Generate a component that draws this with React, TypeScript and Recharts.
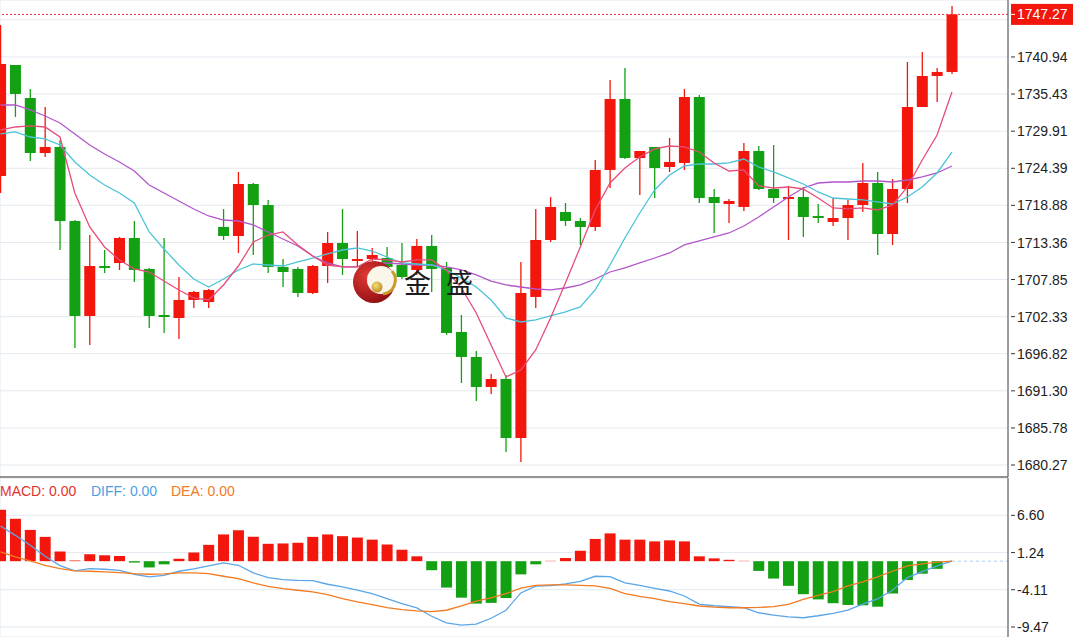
import {
  ComposedChart,
  Bar,
  Line,
  XAxis,
  YAxis,
  CartesianGrid,
  ReferenceLine,
  Cell,
} from 'recharts';

const RED = '#f2160c';
const GREEN = '#13a013';
const GRID = '#e4eaf0';
const AXIS = '#444';
const FONT = '"Liberation Sans", Arial, sans-serif';

// candles, oldest first
const opens = [
  1723.24, 1739.75, 1734.84, 1726.66, 1727.56, 1716.55, 1702.43, 1709.86, 1710.31, 1714.03,
  1709.42, 1702.58, 1702.13, 1704.81, 1704.51, 1715.66, 1714.32, 1722.05, 1718.93, 1709.72,
  1709.42, 1705.85, 1709.86, 1713.28, 1710.61, 1710.9, 1711.05, 1710.01, 1709.27, 1712.84,
  1709.57, 1700.05, 1696.34, 1691.87, 1693.06, 1684.29, 1705.26, 1713.73, 1717.89, 1716.55,
  1715.66, 1724.14, 1734.69, 1725.92, 1727.56, 1724.58, 1725.18, 1734.99, 1720.12, 1719.08,
  1718.64, 1726.96, 1721.31, 1719.82, 1720.12, 1717.3, 1716.41, 1717.0, 1718.93, 1722.2,
  1714.62, 1721.31, 1733.5, 1738.11, 1738.71,
];
const closes = [
  1739.9, 1735.44, 1726.66, 1727.56, 1716.55, 1702.43, 1709.86, 1709.57, 1714.03, 1709.27,
  1702.43, 1702.28, 1704.81, 1706.0, 1706.3, 1714.32, 1722.05, 1718.93, 1709.72, 1708.97,
  1705.85, 1709.86, 1713.28, 1710.9, 1710.9, 1711.5, 1709.72, 1708.23, 1712.84, 1709.42,
  1699.9, 1696.34, 1691.87, 1693.06, 1684.29, 1705.85, 1713.73, 1718.64, 1716.55, 1715.66,
  1724.14, 1734.69, 1725.92, 1726.96, 1724.43, 1725.33, 1734.99, 1719.97, 1719.23, 1719.53,
  1726.96, 1721.31, 1719.97, 1720.12, 1717.15, 1717.0, 1717.0, 1718.93, 1722.2, 1714.62,
  1721.31, 1733.5, 1738.11, 1738.71, 1747.27,
];
const highs = [
  1745.69, 1739.75, 1736.18, 1733.5, 1728.6, 1716.7, 1714.47, 1712.24, 1714.18, 1716.55,
  1709.57, 1714.03, 1708.23, 1706.15, 1706.44, 1718.34, 1723.84, 1722.2, 1719.68, 1710.9,
  1709.72, 1710.01, 1714.92, 1718.34, 1715.07, 1712.54, 1712.69, 1713.28, 1713.88, 1714.47,
  1710.46, 1702.58, 1697.23, 1693.81, 1693.66, 1710.46, 1718.34, 1720.12, 1719.23, 1717.0,
  1725.62, 1737.52, 1739.3, 1726.96, 1727.56, 1728.89, 1736.18, 1735.29, 1721.31, 1719.82,
  1728.15, 1727.7, 1727.85, 1721.76, 1721.61, 1719.08, 1719.97, 1719.68, 1725.18, 1723.84,
  1722.8, 1740.19, 1741.68, 1739.3, 1748.52,
];
const lows = [
  1720.72, 1732.02, 1725.47, 1726.07, 1712.24, 1697.67, 1698.12, 1708.82, 1709.27, 1707.49,
  1700.65, 1699.9, 1699.01, 1703.62, 1703.62, 1713.73, 1711.8, 1711.5, 1708.82, 1706.74,
  1705.26, 1705.7, 1707.34, 1708.53, 1709.72, 1710.61, 1709.27, 1707.93, 1708.53, 1706.0,
  1699.61, 1692.47, 1689.79, 1690.83, 1682.21, 1680.72, 1703.62, 1713.43, 1715.81, 1712.99,
  1715.07, 1721.46, 1725.77, 1720.42, 1719.97, 1723.84, 1724.14, 1719.23, 1714.77, 1716.26,
  1718.04, 1721.16, 1719.23, 1713.73, 1714.18, 1716.26, 1715.81, 1713.73, 1717.89, 1711.5,
  1712.99, 1719.23, 1733.5, 1734.25, 1738.41,
];

const ma5 = [
  1730.08, 1730.53, 1730.68, 1730.53, 1729.04, 1720.72, 1715.66, 1712.69, 1710.76, 1709.42,
  1708.97, 1707.63, 1706.3, 1705.11, 1704.81, 1707.04, 1709.86, 1713.43, 1714.47, 1714.92,
  1712.99, 1711.35, 1710.01, 1709.72, 1709.72, 1710.9, 1710.76, 1710.46, 1710.76, 1710.76,
  1709.27, 1706.59, 1702.88, 1698.12, 1693.36, 1694.4, 1697.38, 1702.13, 1707.34, 1712.69,
  1718.19, 1722.2, 1724.43, 1726.07, 1727.26, 1727.7, 1727.56, 1726.81, 1725.18, 1723.99,
  1724.14, 1721.76, 1721.46, 1721.61, 1721.31, 1719.97, 1718.49, 1718.34, 1718.49, 1718.19,
  1718.93, 1721.61, 1725.62, 1729.34, 1735.73,
];
const ma10 = [
  1729.49, 1729.79, 1729.04, 1728.75, 1727.85, 1725.33, 1723.39, 1721.91, 1720.72, 1719.23,
  1714.92, 1712.39, 1710.01, 1707.93, 1706.74, 1707.93, 1709.27, 1710.16, 1710.01, 1709.86,
  1710.46, 1711.05, 1711.65, 1712.24, 1712.54, 1712.09, 1711.2, 1710.31, 1710.16, 1710.01,
  1709.27, 1708.08, 1706.74, 1704.81, 1702.13, 1701.54, 1701.84, 1702.43, 1703.03, 1703.77,
  1706.3, 1710.01, 1714.03, 1717.74, 1721.16, 1723.39, 1724.73, 1725.03, 1725.03, 1725.18,
  1725.77, 1724.58, 1723.84, 1722.95, 1722.05, 1720.87, 1719.97, 1719.82, 1719.68, 1719.38,
  1719.08, 1720.12, 1721.61, 1723.69, 1726.81,
];
const ma20 = [
  1733.8, 1733.8, 1733.06, 1732.16, 1731.12, 1729.49, 1727.85, 1726.52, 1725.33, 1723.99,
  1721.91, 1720.72, 1719.53, 1718.34, 1717.3, 1716.7, 1716.55, 1715.96, 1714.92, 1713.88,
  1712.84, 1711.35, 1710.31, 1709.72, 1709.72, 1710.31, 1710.31, 1710.16, 1710.01, 1710.01,
  1709.72, 1709.27, 1708.53, 1707.63, 1707.04, 1706.74, 1706.44, 1706.3, 1706.59, 1707.04,
  1707.93, 1708.97, 1709.57, 1710.31, 1711.05, 1711.8, 1712.99, 1713.58, 1714.18, 1714.77,
  1715.81, 1717.15, 1718.64, 1720.12, 1721.46, 1722.2, 1722.35, 1722.35, 1722.5, 1722.5,
  1722.35, 1722.65, 1723.1, 1723.69, 1724.73,
];

// MACD pane
const macdHist = [
  7.4, 6.1, 4.5, 3.5, 1.4, 0.1, 1.0, 0.85, 0.75, -0.2,
  -0.9, -0.45, 0.35, 1.25, 2.35, 3.85, 4.45, 3.5, 2.5, 2.55,
  2.65, 3.5, 3.85, 3.6, 3.4, 3.1, 2.4, 1.65, 0.7, -1.3,
  -3.8, -5.25, -6.1, -6.0, -5.3, -1.9, -0.45, 0.05, 0.45, 1.5,
  3.2, 4.0, 3.1, 3.1, 2.85, 3.0, 2.85, 0.7, 0.4, 0.2,
  0.05, -1.4, -2.5, -3.55, -4.75, -5.5, -6.05, -6.3, -6.35, -6.55,
  -4.65, -2.7, -1.8, -1.1, 0,
];
const diffLine = [
  5.07, 3.72, 2.29, 0.7, -0.64, -1.4, -1.07, -1.16, -1.31, -1.88,
  -2.27, -2.03, -1.45, -1.12, -0.69, -0.25, -0.59, -1.69, -2.36, -2.65,
  -2.75, -2.79, -3.32, -3.7, -4.18, -4.66, -5.38, -6.1, -6.72, -7.92,
  -8.88, -9.21, -9.07, -8.21, -7.06, -4.57, -3.6, -3.52, -3.28, -2.89,
  -2.17, -2.22, -3.13, -3.47, -3.9, -4.29, -5.01, -6.17, -6.41, -6.55,
  -6.7, -7.42, -7.76, -8.0, -8.14, -7.85, -7.51, -7.03, -6.17, -5.44,
  -4.19, -2.36, -1.49, -0.67, 0,
];
const deaLine = [
  1.33, 0.61, 0.03, -0.59, -1.07, -1.4, -1.45, -1.55, -1.64, -1.79,
  -1.88, -1.84, -1.69, -1.69, -1.79, -2.17, -2.51, -3.13, -3.61, -3.94,
  -4.18, -4.42, -4.81, -5.38, -5.86, -6.24, -6.67, -6.96, -7.15, -7.25,
  -7.06, -6.43, -5.76, -5.28, -4.66, -3.89, -3.47, -3.42, -3.42, -3.47,
  -3.56, -3.9, -4.67, -5.06, -5.39, -5.83, -6.12, -6.45, -6.6, -6.7,
  -6.7, -6.65, -6.55, -6.21, -5.49, -4.91, -4.38, -3.56, -2.99, -2.26,
  -1.45, -0.67, -0.39, -0.14, 0,
];

const priceLabels = [
  1680.27, 1685.78, 1691.3, 1696.82, 1702.33, 1707.85, 1713.36, 1718.88, 1724.39, 1729.91,
  1735.43, 1740.94,
];
const priceGrid = [...priceLabels, 1746.46];
const macdLabels = [-9.47, -4.11, 1.24, 6.6];
const sessionBreaks = [12, 15, 24, 36, 48, 60];
const lastPrice = 1747.27;
const legendItems = [
  { text: 'MACD: 0.00', color: '#e5322d', left: 0 },
  { text: 'DIFF: 0.00', color: '#4d9fe3', left: 91 },
  { text: 'DEA: 0.00', color: '#f07a25', left: 171 },
];

const X_DOMAIN: [number, number] = [-0.034, 67.77];
const PRICE_DOMAIN: [number, number] = [1678.49, 1749.41];
const MACD_DOMAIN: [number, number] = [-10.91, 11.97];

const candles = closes.map((close, i) => ({
  idx: i,
  open: opens[i],
  close,
  high: highs[i],
  low: lows[i],
  ma5: ma5[i],
  ma10: ma10[i],
  ma20: ma20[i],
}));

const macdData = macdHist.map((hist, i) => ({
  idx: i,
  hist,
  diff: diffLine[i],
  dea: deaLine[i],
}));

function Candle(props: any) {
  const { x, y, width, height, payload } = props;
  if (x == null || !payload) return null;
  const top = Math.min(y, y + height);
  const bottom = Math.max(y, y + height);
  const span = payload.high - payload.low;
  const k = span > 0 ? (bottom - top) / span : 0;
  const toY = (v: number) => top + (payload.high - v) * k;
  const color = payload.close >= payload.open ? RED : GREEN;
  const cx = x + width / 2;
  const bodyTop = toY(Math.max(payload.open, payload.close));
  const bodyBottom = toY(Math.min(payload.open, payload.close));
  return (
    <g>
      <line x1={cx} x2={cx} y1={top} y2={bottom} stroke={color} strokeWidth={1.3} />
      <rect
        x={cx - 5.5}
        y={bodyTop}
        width={11}
        height={Math.max(bodyBottom - bodyTop, 1.5)}
        fill={color}
      />
    </g>
  );
}

function AxisTick(props: any) {
  const { x, y, payload, shown } = props;
  if (!shown.includes(payload.value)) return <g />;
  return (
    <g>
      <line x1={x + 3} x2={x + 7} y1={y} y2={y} stroke="#333" />
      <text x={x + 9} y={y} dy="0.36em" fontSize={14} fontFamily={FONT} fill="#222">
        {payload.value.toFixed(2)}
      </text>
    </g>
  );
}

function PriceTag(props: any) {
  const vb = props.viewBox || {};
  const right = (vb.x || 0) + (vb.width || 0);
  const y = vb.y || 0;
  return (
    <g>
      <rect x={right + 3} y={y - 10.5} width={62} height={21} fill={RED} />
      <line x1={right + 3} x2={right + 7} y1={y} y2={y} stroke="#fff" />
      <text x={right + 9} y={y} dy="0.36em" fontSize={14} fontFamily={FONT} fill="#fff">
        {lastPrice.toFixed(2)}
      </text>
    </g>
  );
}

function Watermark() {
  return (
    <svg
      width={1073}
      height={637}
      style={{ position: 'absolute', left: 0, top: 0, pointerEvents: 'none' }}
    >
      <defs>
        <radialGradient id="wmRed" cx="35%" cy="35%" r="75%">
          <stop offset="0%" stopColor="#e23a34" />
          <stop offset="100%" stopColor="#8a0c10" />
        </radialGradient>
        <radialGradient id="wmGold" cx="40%" cy="35%" r="70%">
          <stop offset="0%" stopColor="#f3dc7a" />
          <stop offset="100%" stopColor="#b98b1c" />
        </radialGradient>
      </defs>
      <circle cx={374} cy={282} r={21} fill="url(#wmRed)" />
      <circle cx={381} cy={280} r={14} fill="#fbf6ea" />
      <path d="M 392 271 A 14 14 0 0 1 383 294" stroke="#c99b2b" strokeWidth={3} fill="none" />
      <circle cx={377} cy={287} r={5.5} fill="url(#wmGold)" />
      <text
        x={404}
        y={293}
        fontSize={27}
        fontFamily='"Noto Sans CJK SC", sans-serif'
        letterSpacing={15}
        fill="#1c1c1c"
      >
        金盛
      </text>
    </svg>
  );
}

export default function App() {
  return (
    <div
      style={{
        position: 'absolute',
        left: 0,
        top: 0,
        width: 1073,
        height: 637,
        background: '#fff',
        overflow: 'hidden',
      }}
    >
      <ComposedChart
        width={1073}
        height={478}
        data={candles}
        margin={{ top: 0, right: 0, bottom: 0, left: 0 }}
      >
        <CartesianGrid stroke={GRID} />
        <XAxis
          dataKey="idx"
          type="number"
          domain={X_DOMAIN}
          allowDataOverflow
          ticks={sessionBreaks}
          tick={false}
          tickLine={false}
          axisLine={{ stroke: '#333' }}
          height={1}
        />
        <YAxis
          orientation="right"
          width={65}
          domain={PRICE_DOMAIN}
          allowDataOverflow
          ticks={priceGrid}
          interval={0}
          tickSize={0}
          tickMargin={0}
          tickLine={false}
          axisLine={{ stroke: AXIS }}
          tick={<AxisTick shown={priceLabels} />}
        />
        <Bar
          dataKey={(d: any) => [d.low, d.high]}
          barSize={11}
          shape={<Candle />}
          isAnimationActive={false}
        />
        <Line dataKey="ma20" stroke="#b257c8" strokeWidth={1.3} dot={false} activeDot={false} isAnimationActive={false} />
        <Line dataKey="ma10" stroke="#4cc4d8" strokeWidth={1.3} dot={false} activeDot={false} isAnimationActive={false} />
        <Line dataKey="ma5" stroke="#e64d78" strokeWidth={1.3} dot={false} activeDot={false} isAnimationActive={false} />
        <ReferenceLine
          y={lastPrice}
          stroke="#e8353a"
          strokeDasharray="2 2"
          label={(p: any) => <PriceTag {...p} />}
        />
      </ComposedChart>

      <div style={{ position: 'absolute', left: 0, top: 478 }}>
        <ComposedChart
          width={1073}
          height={159}
          data={macdData}
          margin={{ top: 0, right: 0, bottom: 0, left: 0 }}
        >
          <CartesianGrid stroke={GRID} />
          <XAxis
            dataKey="idx"
            type="number"
            domain={X_DOMAIN}
            allowDataOverflow
            ticks={sessionBreaks}
            tick={false}
            tickLine={false}
            axisLine={false}
            height={0}
          />
          <YAxis
            orientation="right"
            width={65}
            domain={MACD_DOMAIN}
            allowDataOverflow
            ticks={macdLabels}
            interval={0}
            tickSize={0}
            tickMargin={0}
            tickLine={false}
            axisLine={{ stroke: AXIS }}
            tick={<AxisTick shown={macdLabels} />}
          />
          <Bar dataKey="hist" barSize={11} isAnimationActive={false}>
            {macdData.map((d) => (
              <Cell key={d.idx} fill={d.hist >= 0 ? RED : GREEN} />
            ))}
          </Bar>
          <ReferenceLine
            segment={[
              { x: macdData.length - 1, y: 0 },
              { x: X_DOMAIN[1], y: 0 },
            ]}
            stroke="#a8cdee"
            strokeDasharray="3 3"
          />
          <Line dataKey="diff" stroke="#5aa6e8" strokeWidth={1.3} dot={false} activeDot={false} isAnimationActive={false} />
          <Line dataKey="dea" stroke="#f27b22" strokeWidth={1.3} dot={false} activeDot={false} isAnimationActive={false} />
        </ComposedChart>
      </div>

      {legendItems.map((item) => (
        <div
          key={item.text}
          style={{
            position: 'absolute',
            left: item.left,
            top: 482,
            lineHeight: '18px',
            fontSize: 14,
            fontFamily: FONT,
            color: item.color,
            whiteSpace: 'pre',
          }}
        >
          {item.text}
        </div>
      ))}

      <Watermark />
    </div>
  );
}
